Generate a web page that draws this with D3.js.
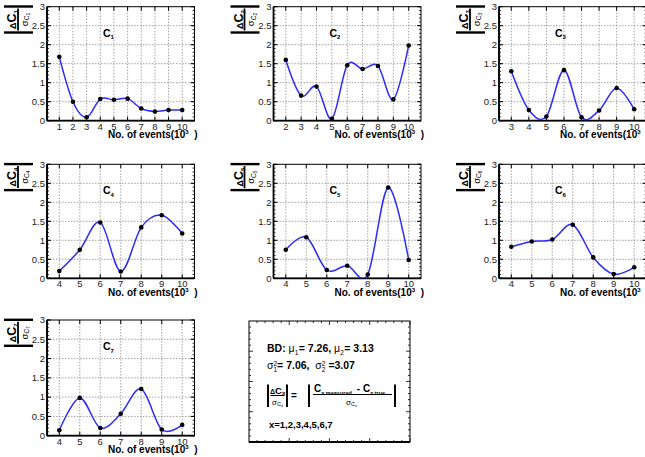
<!DOCTYPE html>
<html><head><meta charset="utf-8">
<script src="https://cdn.jsdelivr.net/npm/d3@7"></script>
<style>
html,body{margin:0;padding:0;background:#fff;}
svg{display:block;font-family:"Liberation Sans",Arial,Helvetica,sans-serif;}
text{white-space:pre;}
</style></head>
<body>
<svg id="chart" width="645" height="457"></svg>
<script>
// ---- data ----
const c1x = [1,2,3,4,5,6,7,8,9,10];
const c1y = [1.68,0.5,0.09,0.57,0.55,0.58,0.32,0.24,0.28,0.28];
const c2x = [2,3,4,5,6,7,8,9,10];
const c2y = [1.6,0.66,0.9,0.05,1.46,1.36,1.44,0.56,1.98];
const c3x = [3,4,5,6,7,8,9,10];
const c3y = [1.3,0.28,0.11,1.33,0.09,0.27,0.86,0.3];
const c4x = [4,5,6,7,8,9,10];
const c4y = [0.19,0.75,1.47,0.18,1.34,1.66,1.18];
const c5x = [4,5,6,7,8,9,10];
const c5y = [0.75,1.08,0.22,0.33,0.1,2.39,0.48];
const c6x = [4,5,6,7,8,9,10];
const c6y = [0.83,0.97,1.02,1.41,0.55,0.11,0.29];
const c7x = [4,5,6,7,8,9,10];
const c7y = [0.14,0.98,0.2,0.57,1.21,0.16,0.28];
const panelNames = ["1","2","3","4","5","6","7"];
const yTickValues = [0,0.5,1,1.5,2,2.5,3];
const yTickLabels = ["0","0.5","1","1.5","2","2.5","3"];
const yDomain = [0,3];
const xTitle = "No. of events(10";
const xTitleSup = "3";
const infoLine1 = ["BD: ","\u03bc","1","= 7.26, ","\u03bc","2","= 3.13"];
const infoSigma = ["7.06","3.07"];
const infoLast = "x=1,2,3,4,5,6,7";

const xsAll = [c1x,c2x,c3x,c4x,c5x,c6x,c7x];
const ysAll = [c1y,c2y,c3y,c4y,c5y,c6y,c7y];

// ---- layout ----
const colLeft = [47, 273.5, 499];
const rowTop = [6.7, 164.3, 320];
const rowH = [114, 114, 115.7];
const W = 147.5;

const svg = d3.select("#chart");

function seq(g, x, y, parts) {
  let cx = x;
  parts.forEach(p => {
    const t = g.append("text")
      .attr("x", cx + (p.dx || 0))
      .attr("y", y + (p.dy || 0))
      .attr("xml:space", "preserve")
      .style("font-size", p.size + "px")
      .style("font-weight", p.bold === false ? "normal" : "bold")
      .attr("fill", "#000")
      .text(p.t);
    if (!p.stack) cx += t.node().getComputedTextLength() + (p.dx || 0) + (p.gap || 0);
  });
  return cx;
}

const defs = svg.append("defs");

for (let i = 0; i < 7; i++) {
  const col = i % 3, row = Math.floor(i / 3);
  const L = colLeft[col], T = rowTop[row], H = rowH[row];
  const xs = xsAll[i], ys = ysAll[i];
  const xmin = d3.min(xs), xmax = d3.max(xs), dx = xmax - xmin;
  const x = d3.scaleLinear().domain([xmin - 0.1 * dx, xmax + 0.1 * dx]).range([L, L + W]);
  const y = d3.scaleLinear().domain(yDomain).range([T + H, T]);
  const g = svg.append("g");

  // grid
  g.selectAll(".gx").data(xs).join("line")
    .attr("x1", d => x(d)).attr("x2", d => x(d))
    .attr("y1", T).attr("y2", T + H)
    .attr("stroke", "#8a8a8a").attr("stroke-width", 0.8).attr("stroke-dasharray", "1.5,1.5");
  g.selectAll(".gy").data(yTickValues.slice(1, -1)).join("line")
    .attr("x1", L).attr("x2", L + W)
    .attr("y1", d => y(d)).attr("y2", d => y(d))
    .attr("stroke", "#8a8a8a").attr("stroke-width", 0.8).attr("stroke-dasharray", "1.5,1.5");

  // minor y ticks
  const minorY = d3.range(0, 3.0001, 0.1);
  g.selectAll(".my").data(minorY).join("line")
    .attr("x1", L).attr("x2", L + 2).attr("y1", d => y(d)).attr("y2", d => y(d))
    .attr("stroke", "#000").attr("stroke-width", 0.8);
  g.selectAll(".myr").data(minorY).join("line")
    .attr("x1", L + W).attr("x2", L + W - 2).attr("y1", d => y(d)).attr("y2", d => y(d))
    .attr("stroke", "#000").attr("stroke-width", 0.8);
  // major y ticks
  g.selectAll(".My").data(yTickValues).join("line")
    .attr("x1", L).attr("x2", L + 4).attr("y1", d => y(d)).attr("y2", d => y(d))
    .attr("stroke", "#000").attr("stroke-width", 1);
  g.selectAll(".Myr").data(yTickValues).join("line")
    .attr("x1", L + W).attr("x2", L + W - 4).attr("y1", d => y(d)).attr("y2", d => y(d))
    .attr("stroke", "#000").attr("stroke-width", 1);
  // x ticks
  g.selectAll(".Mx").data(xs).join("line")
    .attr("x1", d => x(d)).attr("x2", d => x(d)).attr("y1", T + H).attr("y2", T + H - 4)
    .attr("stroke", "#000").attr("stroke-width", 1);
  g.selectAll(".Mxt").data(xs).join("line")
    .attr("x1", d => x(d)).attr("x2", d => x(d)).attr("y1", T).attr("y2", T + 4)
    .attr("stroke", "#000").attr("stroke-width", 1);

  // frame
  g.append("rect").attr("x", L).attr("y", T).attr("width", W).attr("height", H)
    .attr("fill", "none").attr("stroke", "#000").attr("stroke-width", 1);
  g.append("line").attr("x1", L).attr("x2", L).attr("y1", T).attr("y2", T + H)
    .attr("stroke", "#000").attr("stroke-width", 1.8);
  g.append("line").attr("x1", L).attr("x2", L + W).attr("y1", T + H).attr("y2", T + H)
    .attr("stroke", "#000").attr("stroke-width", 1.8);

  // y tick labels
  g.selectAll(".yl").data(yTickValues).join("text")
    .attr("x", L - 2).attr("y", d => y(d) + 3.3)
    .attr("text-anchor", "end").style("font-size", "9.5px").attr("fill", "#222")
    .text((d, k) => yTickLabels[k]);
  // x tick labels
  g.selectAll(".xl").data(xs).join("text")
    .attr("x", d => x(d)).attr("y", T + H + 9)
    .attr("text-anchor", "middle").style("font-size", "9.5px").attr("fill", "#222")
    .text(d => d);
  // x title
  const xt = g.append("text").attr("x", L + 61).attr("y", T + H + 17.5)
    .attr("xml:space", "preserve")
    .style("font-size", "10px").style("font-weight", "bold");
  xt.append("tspan").text(xTitle);
  xt.append("tspan").attr("dy", -4).style("font-size", "6px").text(xTitleSup);
  xt.append("tspan").attr("dy", 4).text("  )");

  // curve
  const cid = "clip" + i;
  defs.append("clipPath").attr("id", cid).append("rect")
    .attr("x", L).attr("y", T).attr("width", W).attr("height", H);
  const pts = xs.map((d, k) => [d, ys[k]]);
  const line = d3.line().x(d => x(d[0])).y(d => y(d[1])).curve(d3.curveCatmullRom.alpha(0));
  g.append("path").attr("d", line(pts)).attr("clip-path", `url(#${cid})`)
    .attr("fill", "none").attr("stroke", "#2b2bff").attr("stroke-width", 1.5);
  g.selectAll(".pt").data(pts).join("circle")
    .attr("cx", d => x(d[0])).attr("cy", d => y(d[1])).attr("r", 2.3).attr("fill", "#000");

  // panel label
  const pl = g.append("text").attr("x", L + 56).attr("y", T + 30)
    .style("font-size", "10.5px").style("font-weight", "bold");
  pl.append("tspan").text("C");
  pl.append("tspan").attr("dy", 2.5).style("font-size", "6px").text(panelNames[i]);

  // y title (rotated)
  const yt = svg.append("g").attr("transform", `translate(${L - 29},${T + 12.8}) rotate(-90)`);
  yt.append("line").attr("x1", -13).attr("x2", -13).attr("y1", -14).attr("y2", 15)
    .attr("stroke", "#000").attr("stroke-width", 2.4);
  yt.append("line").attr("x1", 13).attr("x2", 13).attr("y1", -14).attr("y2", 15)
    .attr("stroke", "#000").attr("stroke-width", 2.4);
  yt.append("line").attr("x1", -11).attr("x2", 11).attr("y1", 0).attr("y2", 0)
    .attr("stroke", "#000").attr("stroke-width", 1.8);
  const num = yt.append("text").attr("x", 0).attr("y", -2).attr("text-anchor", "middle")
    .style("font-weight", "bold");
  num.append("tspan").style("font-size", "9px").text("\u0394");
  num.append("tspan").style("font-size", "12.5px").text("C");
  num.append("tspan").attr("dy", 2).style("font-size", "6px").text(panelNames[i]);
  const den = yt.append("text").attr("x", 0).attr("y", 9.5).attr("text-anchor", "middle");
  den.append("tspan").style("font-size", "9.5px").text("\u03c3");
  den.append("tspan").attr("dy", 1.5).style("font-size", "6.5px").text("C");
  den.append("tspan").attr("dy", 1).style("font-size", "5px").text(panelNames[i]);
}

// ---- info box ----
const bx = 249, by = 321, bw = 161, bh = 121;
const ib = svg.append("g");
ib.append("rect").attr("x", bx).attr("y", by).attr("width", bw).attr("height", bh)
  .attr("fill", "#fff").attr("stroke", "#000").attr("stroke-width", 1);
ib.append("line").attr("x1", bx).attr("x2", bx + bw).attr("y1", by + bh).attr("y2", by + bh)
  .attr("stroke", "#000").attr("stroke-width", 2);
const tv = d3.range(by + 6, by + bh, 6.05);
ib.selectAll(".tl").data(tv).join("line")
  .attr("x1", bx).attr("x2", (d, k) => bx + (k % 5 === 4 ? 4 : 2)).attr("y1", d => d).attr("y2", d => d)
  .attr("stroke", "#000").attr("stroke-width", 0.8);
ib.selectAll(".tr").data(tv).join("line")
  .attr("x1", bx + bw).attr("x2", (d, k) => bx + bw - (k % 5 === 4 ? 4 : 2)).attr("y1", d => d).attr("y2", d => d)
  .attr("stroke", "#000").attr("stroke-width", 0.8);
const th = d3.range(bx + 8, bx + bw, 8.05);
ib.selectAll(".tb").data(th).join("line")
  .attr("x1", d => d).attr("x2", d => d).attr("y1", by + bh).attr("y2", (d, k) => by + bh - (k % 5 === 4 ? 4 : 2))
  .attr("stroke", "#000").attr("stroke-width", 0.8);
ib.selectAll(".tt").data(th).join("line")
  .attr("x1", d => d).attr("x2", d => d).attr("y1", by).attr("y2", (d, k) => by + (k % 5 === 4 ? 4 : 2))
  .attr("stroke", "#000").attr("stroke-width", 0.8);

// line 1
seq(ib, 267, 352, [
  {t: infoLine1[0], size: 10.5},
  {t: infoLine1[1], size: 10.5, bold: false},
  {t: infoLine1[2], size: 6.5, dy: 2.5, bold: false, gap: 0.5},
  {t: infoLine1[3], size: 10.5},
  {t: infoLine1[4], size: 10.5, bold: false},
  {t: infoLine1[5], size: 6.5, dy: 2.5, bold: false, gap: 0.5},
  {t: infoLine1[6], size: 10.5}
]);
// line 2
seq(ib, 267, 369, [
  {t: "\u03c3", size: 10.5, bold: false},
  {t: "2", size: 6.5, dy: -3.5, bold: false, stack: true},
  {t: "1", size: 6.5, dy: 2.5, bold: false},
  {t: "= " + infoSigma[0] + ",  ", size: 10.5},
  {t: "\u03c3", size: 10.5, bold: false},
  {t: "2", size: 6.5, dy: -3.5, bold: false, stack: true},
  {t: "2", size: 6.5, dy: 2.5, bold: false},
  {t: " =" + infoSigma[1], size: 10.5}
]);
// formula
function bar(xp) {
  ib.append("line").attr("x1", xp).attr("x2", xp).attr("y1", 384.5).attr("y2", 407)
    .attr("stroke", "#000").attr("stroke-width", 2);
}
bar(268); bar(287); bar(309); bar(395);
ib.append("line").attr("x1", 270.5).attr("x2", 284.5).attr("y1", 395.5).attr("y2", 395.5)
  .attr("stroke", "#000").attr("stroke-width", 1);
seq(ib, 270, 393.5, [
  {t: "\u0394", size: 7},
  {t: "C", size: 9.5},
  {t: "x", size: 6, dy: 1.5}
]);
seq(ib, 272, 404.5, [
  {t: "\u03c3", size: 8, bold: false},
  {t: "C", size: 5.5, dy: 1.5, bold: false},
  {t: "x", size: 4, dy: 2.5, bold: false}
]);
ib.append("text").attr("x", 291).attr("y", 399).style("font-size", "10px").style("font-weight", "bold").text("=");
ib.append("line").attr("x1", 313).attr("x2", 392).attr("y1", 394.5).attr("y2", 394.5)
  .attr("stroke", "#000").attr("stroke-width", 1);
seq(ib, 314, 392, [
  {t: "C", size: 10},
  {t: "x measured", size: 5.5, dy: 2.5, gap: 5},
  {t: "- C", size: 10},
  {t: "x true", size: 5.5, dy: 2.5}
]);
seq(ib, 346, 404.5, [
  {t: "\u03c3", size: 8, bold: false},
  {t: "C", size: 5.5, dy: 1.5, bold: false},
  {t: "x", size: 4, dy: 2.5, bold: false}
]);
// last line
ib.append("text").attr("x", 269).attr("y", 428).style("font-size", "9.5px").style("font-weight", "bold").text(infoLast);
</script>
</body></html>
